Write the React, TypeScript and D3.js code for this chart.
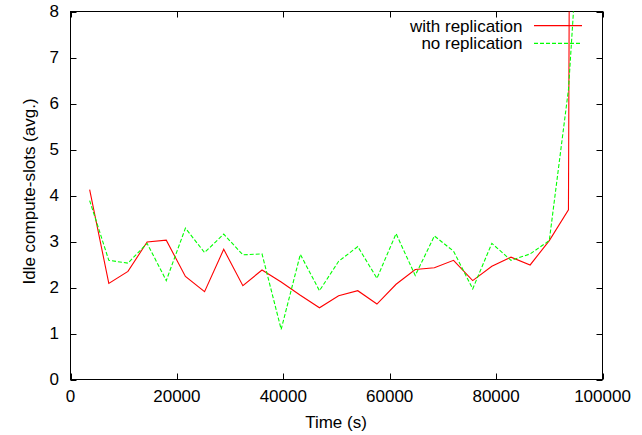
import React from "react";
import * as d3 from "d3";

// hourly samples (seconds)
const timeSec = [
  3600, 7200, 10800, 14400, 18000, 21600, 25200, 28800, 32400, 36000,
  39600, 43200, 46800, 50400, 54000, 57600, 61200, 64800, 68400, 72000,
  75600, 79200, 82800, 86400, 90000, 93600, 97200,
];

const withReplication = [
  4.13, 2.09, 2.35, 2.99, 3.03, 2.24, 1.91, 2.83, 2.04, 2.38,
  2.12, 1.83, 1.56, 1.82, 1.93, 1.64, 2.07, 2.39, 2.43, 2.59,
  2.15, 2.46, 2.66, 2.49, 3.02, 3.69, 120,
];

const noReplication = [
  3.89, 2.59, 2.53, 2.96, 2.15, 3.29, 2.76, 3.16, 2.71, 2.73,
  1.09, 2.72, 1.93, 2.57, 2.89, 2.2, 3.17, 2.26, 3.12, 2.79,
  1.97, 2.96, 2.59, 2.73, 3.02, 6.3, 12.8,
];

const xTicks = [0, 20000, 40000, 60000, 80000, 100000];
const yTicks = [0, 1, 2, 3, 4, 5, 6, 7, 8];

const series = [
  { name: "with replication", values: withReplication, color: "#ff0000", dash: null },
  { name: "no replication", values: noReplication, color: "#00ff00", dash: "4,2" },
];

const W = 642;
const H = 435;
const left = 70.5, right = 602.5, top = 11.5, bottom = 379.5;
const font = "'Liberation Sans', Arial, sans-serif";

export default function App() {
  const x = d3.scaleLinear().domain([0, 100000]).range([left, right]);
  const y = d3.scaleLinear().domain([0, 8]).range([bottom, top]);
  const tick = 6;

  const line = (vals: number[]) =>
    d3.line<number>()
      .x((_, i) => x(timeSec[i]))
      .y(d => y(d))(vals) as string;

  return (
    <svg width={W} height={H} style={{ position: "absolute", left: 0, top: 0, background: "#fff" }}
      fontFamily={font} fontSize={17}>
      <defs>
        <clipPath id="plot">
          <rect x={left} y={top} width={right - left} height={bottom - top} />
        </clipPath>
      </defs>

      {/* ticks, mirrored on all sides */}
      {xTicks.map(t => (
        <g key={"x" + t}>
          <line x1={Math.round(x(t)) + 0.5} x2={Math.round(x(t)) + 0.5} y1={bottom} y2={bottom - tick} stroke="#000" />
          <line x1={Math.round(x(t)) + 0.5} x2={Math.round(x(t)) + 0.5} y1={top} y2={top + tick} stroke="#000" />
          <text x={x(t)} y={402} textAnchor="middle" fill="#000">{t}</text>
        </g>
      ))}
      {yTicks.map(t => (
        <g key={"y" + t}>
          <line x1={left} x2={left + tick} y1={Math.round(y(t)) + 0.5} y2={Math.round(y(t)) + 0.5} stroke="#000" />
          <line x1={right} x2={right - tick} y1={Math.round(y(t)) + 0.5} y2={Math.round(y(t)) + 0.5} stroke="#000" />
          <text x={59} y={y(t)} dy="0.35em" textAnchor="end" fill="#000">{t}</text>
        </g>
      ))}

      <rect x={left} y={top} width={right - left} height={bottom - top} fill="none" stroke="#000" />

      {/* legend + data */}
      {series.map((s, i) => {
        const ly = 25.7 + i * 17.6;
        return (
          <g key={s.name}>
            <text x={522.5} y={ly} dy="0.35em" textAnchor="end" fill="#000">{s.name}</text>
            <line x1={534} x2={582} y1={ly} y2={ly} stroke={s.color} strokeWidth={1.2}
              strokeDasharray={s.dash ?? undefined} />
            <path d={line(s.values)} fill="none" stroke={s.color} strokeWidth={1.1}
              strokeDasharray={s.dash ?? undefined} clipPath="url(#plot)" />
          </g>
        );
      })}

      <text x={336} y={428} textAnchor="middle" fill="#000">Time (s)</text>
      <text transform="translate(35,191.5) rotate(-90)" textAnchor="middle" fill="#000">
        Idle compute-slots (avg.)
      </text>
    </svg>
  );
}
